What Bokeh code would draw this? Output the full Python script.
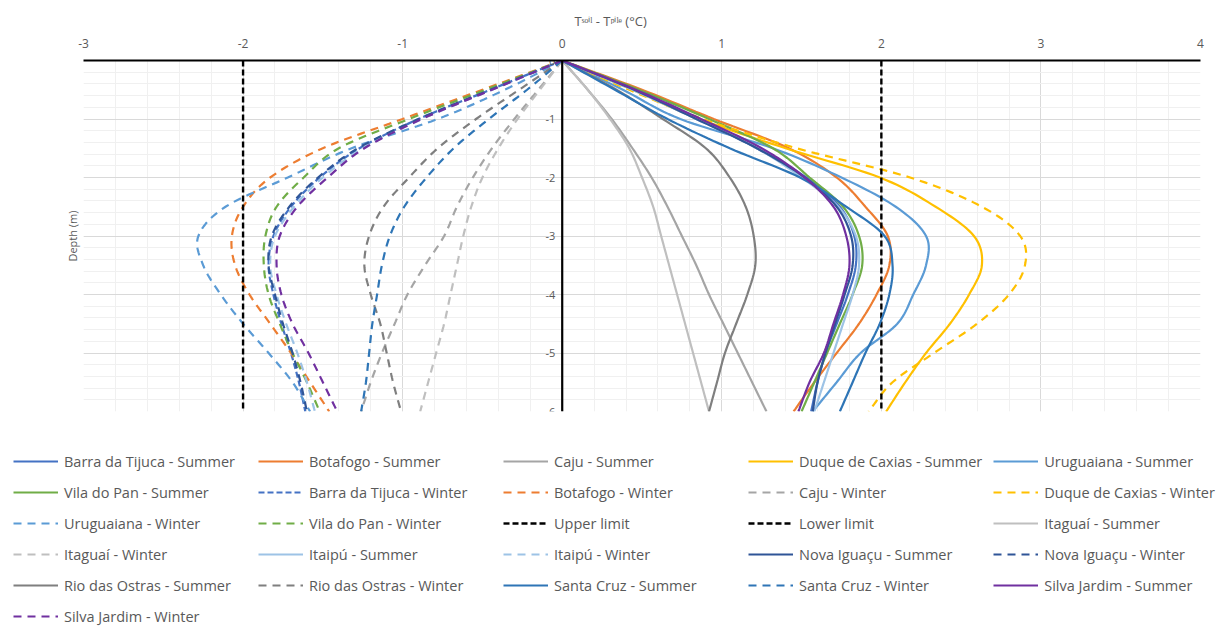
import numpy as np
from bokeh.plotting import figure
from bokeh.layouts import column
from bokeh.models import Range1d, SingleIntervalTicker, FixedTicker, Legend, LegendItem, Span
from bokeh.core.properties import value
from bokeh.embed import file_html
from bokeh.resources import INLINE

# ---------------- data ----------------
depth = [0, -0.5, -1, -1.5, -2, -2.5, -3, -3.5, -4, -4.5, -5, -5.5, -6]

barra_summer      = [0, 0.45, 0.85, 1.22, 1.53, 1.74, 1.83, 1.84, 1.79, 1.72, 1.65, 1.60, 1.56]
botafogo_summer   = [0, 0.50, 0.95, 1.42, 1.72, 1.90, 2.04, 2.05, 1.97, 1.86, 1.72, 1.58, 1.45]
caju_summer       = [0, 0.16, 0.31, 0.44, 0.56, 0.66, 0.75, 0.84, 0.92, 1.01, 1.10, 1.19, 1.28]
duque_summer      = [0, 0.44, 0.86, 1.40, 1.99, 2.34, 2.58, 2.63, 2.55, 2.43, 2.28, 2.15, 2.03]
uruguaiana_summer = [0, 0.38, 0.74, 1.32, 1.75, 2.09, 2.28, 2.28, 2.20, 2.10, 1.87, 1.72, 1.57]
vila_summer       = [0, 0.48, 0.92, 1.32, 1.55, 1.76, 1.86, 1.88, 1.82, 1.74, 1.66, 1.58, 1.50]
barra_winter      = [0, -0.45, -0.90, -1.27, -1.52, -1.70, -1.81, -1.84, -1.81, -1.76, -1.70, -1.65, -1.61]
botafogo_winter   = [0, -0.50, -1.00, -1.50, -1.83, -2.00, -2.07, -2.05, -1.96, -1.83, -1.70, -1.58, -1.46]
caju_winter       = [0, -0.15, -0.30, -0.44, -0.56, -0.66, -0.74, -0.86, -0.97, -1.05, -1.13, -1.20, -1.26]
duque_winter      = [0, 0.42, 0.88, 1.47, 2.18, 2.63, 2.87, 2.90, 2.80, 2.60, 2.33, 2.07, 1.92]
uruguaiana_winter = [0, -0.36, -0.78, -1.32, -1.72, -2.11, -2.28, -2.25, -2.14, -2.00, -1.84, -1.69, -1.58]
vila_winter       = [0, -0.48, -0.96, -1.40, -1.62, -1.79, -1.86, -1.87, -1.84, -1.77, -1.69, -1.60, -1.52]
itaguai_summer    = [0, 0.16, 0.30, 0.42, 0.50, 0.57, 0.62, 0.67, 0.72, 0.77, 0.82, 0.87, 0.92]
itaguai_winter    = [0, -0.14, -0.28, -0.40, -0.50, -0.57, -0.62, -0.66, -0.70, -0.74, -0.79, -0.84, -0.89]
itaipu_summer     = [0, 0.44, 0.84, 1.22, 1.50, 1.73, 1.84, 1.86, 1.82, 1.76, 1.70, 1.64, 1.58]
itaipu_winter     = [0, -0.44, -0.88, -1.25, -1.50, -1.68, -1.80, -1.83, -1.79, -1.73, -1.66, -1.60, -1.55]
nova_summer       = [0, 0.45, 0.84, 1.22, 1.52, 1.72, 1.81, 1.82, 1.77, 1.71, 1.65, 1.60, 1.57]
nova_winter       = [0, -0.45, -0.90, -1.28, -1.53, -1.71, -1.82, -1.84, -1.80, -1.75, -1.69, -1.64, -1.60]
rio_summer        = [0, 0.34, 0.63, 0.90, 1.05, 1.15, 1.20, 1.21, 1.16, 1.09, 1.02, 0.97, 0.92]
rio_winter        = [0, -0.27, -0.54, -0.78, -0.96, -1.12, -1.21, -1.24, -1.20, -1.14, -1.10, -1.06, -1.01]
santa_summer      = [0, 0.33, 0.66, 1.05, 1.49, 1.78, 2.02, 2.07, 2.05, 1.99, 1.90, 1.82, 1.74]
santa_winter      = [0, -0.22, -0.46, -0.68, -0.85, -0.99, -1.08, -1.13, -1.16, -1.19, -1.21, -1.23, -1.26]
silva_summer      = [0, 0.46, 0.87, 1.25, 1.52, 1.70, 1.78, 1.80, 1.76, 1.70, 1.64, 1.55, 1.48]
silva_winter      = [0, -0.44, -0.88, -1.24, -1.47, -1.66, -1.77, -1.79, -1.76, -1.69, -1.59, -1.50, -1.41]

upper_limit = 2.0
lower_limit = -2.0
limit_depth = [0, -6]

x_ticks = [-3, -2, -1, 0, 1, 2, 3, 4]
y_ticks = [0, -1, -2, -3, -4, -5, -6]
y_tick_labels = ["0", "-1", "-2", "-3", "-4", "-5", "-6"]

x_title = "T\u02e2\u1d52\u2071\u02e1 - T\u1d56\u2071\u02e1\u1d49 (\u00b0C)"
y_title = "Depth (m)"

# ---------------- styles ----------------
SOLID = "solid"
DASH = "8 6"
SQDASH = "6 3"

series = [
    ("Barra da Tijuca - Summer", barra_summer, "#4472C4", SOLID),
    ("Botafogo - Summer", botafogo_summer, "#ED7D31", SOLID),
    ("Caju - Summer", caju_summer, "#A5A5A5", SOLID),
    ("Duque de Caxias - Summer", duque_summer, "#FFC000", SOLID),
    ("Uruguaiana - Summer", uruguaiana_summer, "#5B9BD5", SOLID),
    ("Vila do Pan - Summer", vila_summer, "#70AD47", SOLID),
    ("Barra da Tijuca - Winter", barra_winter, "#4472C4", SQDASH),
    ("Botafogo - Winter", botafogo_winter, "#ED7D31", DASH),
    ("Caju - Winter", caju_winter, "#A5A5A5", DASH),
    ("Duque de Caxias - Winter", duque_winter, "#FFC000", DASH),
    ("Uruguaiana - Winter", uruguaiana_winter, "#5B9BD5", DASH),
    ("Vila do Pan - Winter", vila_winter, "#70AD47", DASH),
    ("Upper limit", None, "#000000", SQDASH),
    ("Lower limit", None, "#000000", SQDASH),
    ("Itaguaí - Summer", itaguai_summer, "#BFBFBF", SOLID),
    ("Itaguaí - Winter", itaguai_winter, "#BFBFBF", DASH),
    ("Itaipú - Summer", itaipu_summer, "#9DC3E6", SOLID),
    ("Itaipú - Winter", itaipu_winter, "#9DC3E6", DASH),
    ("Nova Iguaçu - Summer", nova_summer, "#2F5597", SOLID),
    ("Nova Iguaçu - Winter", nova_winter, "#2F5597", DASH),
    ("Rio das Ostras - Summer", rio_summer, "#7F7F7F", SOLID),
    ("Rio das Ostras - Winter", rio_winter, "#7F7F7F", DASH),
    ("Santa Cruz - Summer", santa_summer, "#2E75B6", SOLID),
    ("Santa Cruz - Winter", santa_winter, "#2E75B6", DASH),
    ("Silva Jardim - Summer", silva_summer, "#7030A0", SOLID),
    ("Silva Jardim - Winter", silva_winter, "#7030A0", DASH),
]


def smooth(xs, ys, n=12):
    """Catmull-Rom rendering of the read points (like a spreadsheet 'smoothed line')."""
    P = np.column_stack([xs, ys]).astype(float)
    E = np.vstack([2 * P[0] - P[1], P, 2 * P[-1] - P[-2]])
    t = np.linspace(0, 1, n, endpoint=False)[:, None]
    segs = []
    for i in range(1, len(E) - 2):
        p0, p1, p2, p3 = E[i - 1], E[i], E[i + 1], E[i + 2]
        seg = 0.5 * ((2 * p1) + (-p0 + p2) * t + (2 * p0 - 5 * p1 + 4 * p2 - p3) * t ** 2
                     + (-p0 + 3 * p1 - 3 * p2 + p3) * t ** 3)
        segs.append(seg)
    segs.append(P[-1:])
    S = np.vstack(segs)
    return S[:, 0], S[:, 1]


FONT = "Open Sans"
GRAY = "#595959"

p = figure(width=1210, height=419, output_backend="svg", toolbar_location=None,
           x_range=Range1d(-3, 4), y_range=Range1d(-6, 0), x_axis_location="above",
           min_border_left=83, min_border_right=10, min_border_top=60, min_border_bottom=8,
           background_fill_color="white", border_fill_color="white", outline_line_color=None)

# title (x-axis name)
p.title.text = x_title
p.title.align = "left"
p.title.offset = 491
p.title.text_font = FONT
p.title.text_font_size = "13px"
p.title.text_font_style = "normal"
p.title.text_color = GRAY
p.title.standoff = 11

# top axis
xax = p.xaxis[0]
xax.ticker = SingleIntervalTicker(interval=1, num_minor_ticks=5)
xax.major_label_overrides = {t: str(t) for t in x_ticks}
xax.major_tick_out = 0
xax.major_tick_in = 0
xax.minor_tick_out = 0
xax.minor_tick_in = 0
xax.axis_line_color = "black"
xax.axis_line_width = 2.2
xax.major_label_text_font = FONT
xax.major_label_text_font_size = "12px"
xax.major_label_text_color = GRAY
xax.major_label_standoff = 13

# left axis: only the name
yax = p.yaxis[0]
yax.ticker = FixedTicker(ticks=[])
yax.axis_line_color = None
yax.major_tick_line_color = None
yax.minor_tick_line_color = None
yax.axis_label = y_title
yax.axis_label_text_font = FONT
yax.axis_label_text_font_size = "11px"
yax.axis_label_text_font_style = "normal"
yax.axis_label_text_color = GRAY
yax.axis_label_standoff = 4

# grids
p.xgrid[0].ticker = SingleIntervalTicker(interval=1, num_minor_ticks=5)
p.ygrid[0].ticker = SingleIntervalTicker(interval=1, num_minor_ticks=5)
for g in (p.xgrid[0], p.ygrid[0]):
    g.grid_line_color = "#D9D9D9"
    g.grid_line_width = 1
    g.minor_grid_line_color = "#F0F0F0"
    g.minor_grid_line_width = 1

# vertical axis line at x = 0
p.add_layout(Span(location=0, dimension="height", line_color="black", line_width=2.2))

# legend panel (a second, axis-less figure holding the legend)
leg = figure(width=1218, height=208, output_backend="svg", toolbar_location=None,
             x_range=Range1d(0, 1), y_range=Range1d(0, 1), x_axis_type=None, y_axis_type=None,
             min_border=0, outline_line_color=None, background_fill_color="white",
             border_fill_color="white")
leg.grid.visible = False
leg.frame_align = False

items = []
for name, vals, color, dash in series:
    lw = 2.4 if vals is None else 2.2
    if vals is None:
        lim = upper_limit if name.startswith("Upper") else lower_limit
        p.line([lim, lim], limit_depth, line_color=color, line_width=lw, line_dash=dash)
    else:
        sx, sy = smooth(vals, depth)
        p.line(sx, sy, line_color=color, line_width=lw, line_dash=dash)
    # legend key: same style, no visible data
    key = leg.line(x=[np.nan], y=[np.nan], line_color=color, line_width=lw, line_dash=dash)
    items.append(LegendItem(label=name, renderers=[key]))

# y tick labels at the x = 0 axis
p.text(x=[0] * len(y_ticks), y=y_ticks, text=y_tick_labels, text_font=value(FONT),
       text_font_size="11px", text_color=GRAY, text_align="right", text_baseline="middle",
       x_offset=-7)

legend = Legend(items=items, ncols=5, orientation="horizontal", location=(13, 1),
                glyph_width=45, glyph_height=20, label_height=20, label_width=183,
                label_standoff=6, spacing=11, padding=0, margin=0,
                border_line_color=None, background_fill_alpha=0,
                label_text_font=FONT, label_text_font_size="14.5px", label_text_color=GRAY)
leg.add_layout(legend, "center")

layout = column(p, leg, spacing=0)
open("out.html", "w").write(file_html(layout, INLINE))
